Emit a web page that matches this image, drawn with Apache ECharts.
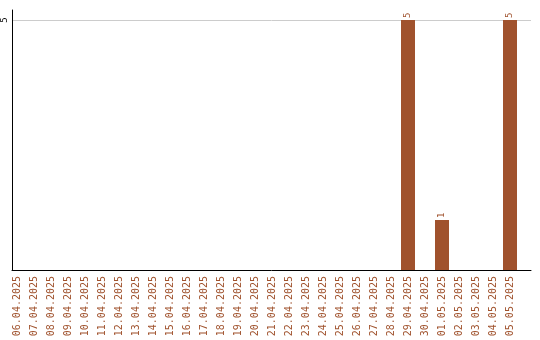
<!DOCTYPE html>
<html>
<head>
<meta charset="utf-8">
<script src="https://cdn.jsdelivr.net/npm/echarts@6/dist/echarts.min.js"></script>
<style>
  html, body { margin: 0; padding: 0; background: #fff; }
  #chart { width: 540px; height: 340px; }
</style>
</head>
<body>
<div id="chart"></div>
<script>
// Daily counts, 06.04.2025 – 05.05.2025
const days = [
  '06.04.2025', '07.04.2025', '08.04.2025', '09.04.2025', '10.04.2025',
  '11.04.2025', '12.04.2025', '13.04.2025', '14.04.2025', '15.04.2025',
  '16.04.2025', '17.04.2025', '18.04.2025', '19.04.2025', '20.04.2025',
  '21.04.2025', '22.04.2025', '23.04.2025', '24.04.2025', '25.04.2025',
  '26.04.2025', '27.04.2025', '28.04.2025', '29.04.2025', '30.04.2025',
  '01.05.2025', '02.05.2025', '03.05.2025', '04.05.2025', '05.05.2025'
];
const counts = [
  0, 0, 0, 0, 0,
  0, 0, 0, 0, 0,
  0, 0, 0, 0, 0,
  0, 0, 0, 0, 0,
  0, 0, 0, 5, 0,
  1, 0, 0, 0, 5
];
const yTicks = [5];

const BROWN = '#A0522D';
const Y_MAX = 5.2;

const chart = echarts.init(document.getElementById('chart'), null, { renderer: 'canvas' });

chart.setOption({
  animation: false,
  grid: [
    // bars
    { left: 8.5, right: 21.5, top: 10, bottom: 70 },
    // frame: axis lines, gridline and y label
    { left: 10, right: 9, top: 10, bottom: 70 }
  ],
  xAxis: [
    {
      type: 'category',
      gridIndex: 0,
      data: days,
      boundaryGap: true,
      axisLine: { show: false },
      axisTick: { show: false },
      axisLabel: {
        interval: 0,
        rotate: 90,
        margin: 6,
        color: BROWN,
        fontFamily: 'DejaVu Sans Mono',
        fontSize: 10
      }
    },
    {
      type: 'value',
      gridIndex: 1,
      min: 0,
      max: 1,
      axisLine: { show: true, onZero: false, lineStyle: { color: '#000', width: 1 } },
      axisTick: { show: false },
      axisLabel: { show: false },
      splitLine: { show: false }
    }
  ],
  yAxis: [
    {
      type: 'value',
      gridIndex: 0,
      min: 0,
      max: Y_MAX,
      show: false
    },
    {
      type: 'value',
      gridIndex: 1,
      min: 0,
      max: Y_MAX,
      interval: 5,
      axisLine: { show: true, onZero: false, lineStyle: { color: '#000', width: 1 } },
      axisTick: { show: false },
      axisLabel: {
        rotate: 90,
        margin: 3,
        color: '#000',
        fontFamily: 'DejaVu Sans Mono',
        fontSize: 9,
        formatter: v => (yTicks.indexOf(v) >= 0 ? String(v) : '')
      },
      splitLine: {
        show: true,
        lineStyle: { color: ['rgba(0,0,0,0)', '#cccccc', 'rgba(0,0,0,0)'], width: 1 }
      }
    }
  ],
  series: [
    {
      type: 'bar',
      xAxisIndex: 0,
      yAxisIndex: 0,
      data: counts,
      barWidth: 14,
      itemStyle: { color: BROWN },
      label: {
        show: true,
        position: 'top',
        rotate: 90,
        align: 'left',
        verticalAlign: 'middle',
        distance: 2,
        color: BROWN,
        fontFamily: 'DejaVu Sans Mono',
        fontSize: 9,
        formatter: p => (p.value ? String(p.value) : '')
      }
    }
  ]
});
</script>
</body>
</html>
